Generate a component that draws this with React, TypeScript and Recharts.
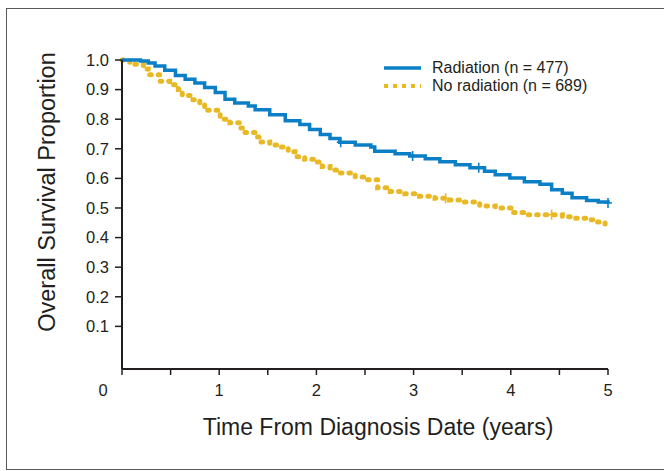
import { LineChart, Line, XAxis, YAxis } from "recharts";

// Kaplan-Meier estimates (time in years, survival proportion)
const RAD_T = [
  0, 0.19, 0.27, 0.34, 0.44, 0.55, 0.65, 0.75, 0.85, 0.96, 1.06, 1.16, 1.3, 1.37,
  1.52, 1.68, 1.83, 1.93, 2.04, 2.14, 2.24, 2.4, 2.56, 2.6, 2.81, 2.96, 3.12, 3.27,
  3.43, 3.58, 3.73, 3.84, 3.99, 4.14, 4.3, 4.42, 4.53, 4.63, 4.78, 4.9, 5.0,
];
const RAD_S = [
  1.0, 0.997, 0.99, 0.98, 0.965, 0.948, 0.935, 0.922, 0.907, 0.89, 0.867, 0.855, 0.845,
  0.832, 0.815, 0.795, 0.782, 0.765, 0.748, 0.735, 0.722, 0.713, 0.706, 0.692, 0.683,
  0.676, 0.666, 0.656, 0.646, 0.636, 0.624, 0.612, 0.601, 0.589, 0.58, 0.562, 0.55,
  0.535, 0.525, 0.52, 0.517,
];
const RAD_CENSOR = [2.25, 2.99, 3.67, 5.0];

const NORAD_T = [
  0, 0.08, 0.22, 0.27, 0.39, 0.49, 0.58, 0.62, 0.7, 0.8, 0.85, 1.01, 1.11, 1.21, 1.24,
  1.39, 1.43, 1.52, 1.62, 1.71, 1.78, 1.88, 1.99, 2.06, 2.14, 2.24, 2.4, 2.5, 2.63,
  2.76, 2.91, 3.06, 3.22, 3.37, 3.52, 3.68, 3.84, 4.01, 4.16, 4.53, 4.63, 4.78, 4.88,
  4.97,
];
const NORAD_S = [
  1.0, 0.986, 0.97, 0.95, 0.928, 0.916, 0.9, 0.88, 0.866, 0.855, 0.83, 0.8, 0.788,
  0.77, 0.755, 0.74, 0.723, 0.713, 0.706, 0.69, 0.673, 0.665, 0.655, 0.64, 0.628,
  0.618, 0.605, 0.595, 0.568, 0.556, 0.548, 0.54, 0.533, 0.527, 0.52, 0.507, 0.5,
  0.485, 0.477, 0.47, 0.465, 0.46, 0.453, 0.446,
];
const NORAD_CENSOR = [3.33, 4.42];

const X_TICKS = [0, 0.5, 1, 1.5, 2, 2.5, 3, 3.5, 4, 4.5, 5];
const Y_TICKS = [0.1, 0.2, 0.3, 0.4, 0.5, 0.6, 0.7, 0.8, 0.9, 1.0];

const BLUE = "#0b7fc5";
const YELLOW = "#e9b925";
const INK = "#231f20";
const FONT = "'Liberation Sans', Arial, sans-serif";

type Pt = { t: number; s: number; c?: boolean };

function buildCurve(ts: number[], ss: number[], censor: number[]): Pt[] {
  const pts: Pt[] = ts.map((t, i) => ({ t, s: ss[i] }));
  for (const c of censor) {
    let s = ss[0];
    for (let i = 0; i < ts.length; i++) if (ts[i] <= c) s = ss[i];
    const hit = pts.find((p) => p.t === c);
    if (hit) hit.c = true;
    else pts.push({ t: c, s, c: true });
  }
  return pts.sort((a, b) => a.t - b.t);
}

const radData = buildCurve(RAD_T, RAD_S, RAD_CENSOR);
const noRadData = buildCurve(NORAD_T, NORAD_S, NORAD_CENSOR);

function censorDot(color: string) {
  return (props: any) => {
    const { cx, cy, payload, index } = props;
    if (!payload?.c) return <g key={`d-${index}`} />;
    return (
      <path
        key={`d-${index}`}
        d={`M${cx - 4},${cy}H${cx + 4}M${cx},${cy - 5}V${cy + 5}`}
        stroke={color}
        strokeWidth={1.6}
        fill="none"
      />
    );
  };
}

function XTick(props: any) {
  const { x, y, payload } = props;
  const v = payload?.value;
  if (!Number.isInteger(v)) return null;
  return (
    <text
      x={v === 0 ? x - 19 : x}
      y={y}
      dy="0.71em"
      textAnchor="middle"
      fontSize={16.5}
      fontFamily={FONT}
      fill={INK}
    >
      {v}
    </text>
  );
}

export default function App() {
  return (
    <div
      style={{
        position: "absolute",
        left: 0,
        top: 0,
        width: 664,
        height: 471,
        background: "#fff",
        overflow: "hidden",
        fontFamily: FONT,
      }}
    >
      <div
        style={{
          position: "absolute",
          left: 6,
          top: 8,
          width: 700,
          height: 460,
          border: "1px solid #58595b",
        }}
      />
      <div style={{ position: "absolute", left: 0, top: 0 }}>
        <LineChart
          width={664}
          height={471}
          margin={{ top: 60, right: 56, bottom: 72, left: 62 }}
        >
          <XAxis
            type="number"
            dataKey="t"
            domain={[0, 5]}
            ticks={X_TICKS}
            interval={0}
            height={30}
            tickSize={6}
            tickMargin={9}
            axisLine={{ stroke: INK, strokeWidth: 2 }}
            tickLine={{ stroke: INK, strokeWidth: 1.5 }}
            tick={<XTick />}
          />
          <YAxis
            type="number"
            domain={[-0.044, 1]}
            ticks={Y_TICKS}
            interval={0}
            width={60}
            tickSize={7}
            tickMargin={6}
            axisLine={{ stroke: INK, strokeWidth: 2 }}
            tickLine={{ stroke: INK, strokeWidth: 1.5 }}
            tick={{ fill: INK, fontSize: 16.5, fontFamily: FONT }}
            tickFormatter={(v: number) => v.toFixed(1)}
          />
          <Line
            data={noRadData}
            dataKey="s"
            type="stepAfter"
            stroke={YELLOW}
            strokeWidth={5}
            strokeDasharray="1.5 7"
            strokeLinecap="round"
            dot={censorDot(YELLOW)}
            activeDot={false}
            isAnimationActive={false}
          />
          <Line
            data={radData}
            dataKey="s"
            type="stepAfter"
            stroke={BLUE}
            strokeWidth={3.5}
            dot={censorDot(BLUE)}
            activeDot={false}
            isAnimationActive={false}
          />
        </LineChart>
      </div>

      {/* legend */}
      <svg
        style={{ position: "absolute", left: 380, top: 58 }}
        width={50}
        height={36}
      >
        <line x1={4} x2={41} y1={10} y2={10} stroke={BLUE} strokeWidth={3.5} />
        <line
          x1={4}
          x2={41}
          y1={28}
          y2={28}
          stroke={YELLOW}
          strokeWidth={4}
          strokeDasharray="4 5"
        />
      </svg>
      <div
        style={{
          position: "absolute",
          left: 432,
          top: 59,
          fontSize: 16,
          lineHeight: "18px",
          color: INK,
          whiteSpace: "nowrap",
        }}
      >
        <div>Radiation (n = 477)</div>
        <div>No radiation (n = 689)</div>
      </div>

      {/* axis titles */}
      <div
        style={{
          position: "absolute",
          left: 0,
          width: 756,
          top: 413,
          textAlign: "center",
          fontSize: 23,
          lineHeight: "28px",
          color: INK,
          whiteSpace: "nowrap",
        }}
      >
        Time From Diagnosis Date (years)
      </div>
      <div
        style={{
          position: "absolute",
          left: 47 - 200,
          top: 192 - 14,
          width: 400,
          height: 28,
          textAlign: "center",
          fontSize: 23.5,
          lineHeight: "28px",
          color: INK,
          whiteSpace: "nowrap",
          transform: "rotate(-90deg)",
        }}
      >
        Overall Survival Proportion
      </div>
    </div>
  );
}
